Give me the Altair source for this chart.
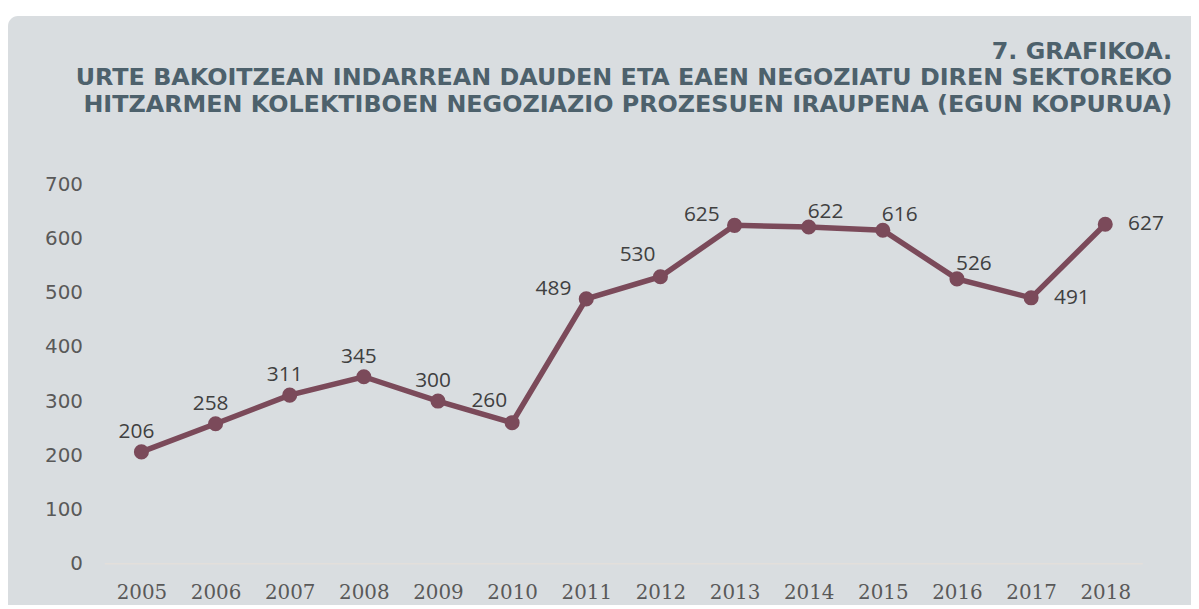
import altair as alt
import pandas as pd

years = ["2005", "2006", "2007", "2008", "2009", "2010", "2011",
         "2012", "2013", "2014", "2015", "2016", "2017", "2018"]
days = [206, 258, 311, 345, 300, 260, 489, 530, 625, 622, 616, 526, 491, 627]

title_lines = [
    "7. GRAFIKOA.",
    "URTE BAKOITZEAN INDARREAN DAUDEN ETA EAEN NEGOZIATU DIREN SEKTOREKO",
    "HITZARMEN KOLEKTIBOEN NEGOZIAZIO PROZESUEN IRAUPENA (EGUN KOPURUA)",
]
y_ticks = [0, 100, 200, 300, 400, 500, 600, 700]

# label placement groups (years)
above = ["2005", "2006", "2007", "2008", "2009"]
up_left = ["2010", "2012"]
left = ["2011", "2013"]
up_right = ["2014", "2015", "2016"]
right = ["2017", "2018"]

df = pd.DataFrame({"year": years, "days": days})

W, H = 1045, 381
LINE = "#7b4a5a"
BG = "#d9dde0"

x_enc = alt.X("year:N", sort=years,
              scale=alt.Scale(type="point", padding=0.5),
              axis=alt.Axis(title=None, labelAngle=0, labelFont="DejaVu Serif",
                            labelFontSize=20, labelColor="#595959", labelPadding=19,
                            ticks=False, domain=True, domainColor="#e3dfdb",
                            domainWidth=1.5, grid=False, zindex=1))
y_enc = alt.Y("days:Q", scale=alt.Scale(domain=[0, 700], nice=False),
              axis=alt.Axis(title=None, values=y_ticks, labelFont="DejaVu Sans",
                            labelFontSize=20, labelColor="#595959", labelPadding=22,
                            ticks=False, domain=False, grid=False, zindex=1))

bg = alt.Chart(alt.Data(values=[{}])).mark_rect(
    color=BG, cornerRadius=10
).encode(
    x=alt.value(-97), x2=alt.value(W + 120),
    y=alt.value(-170), y2=alt.value(H + 120),
)

base = alt.Chart(df)

line = base.mark_line(color=LINE, strokeWidth=5.5).encode(x=x_enc, y=y_enc)
pts = base.mark_point(filled=True, color=LINE, size=230, opacity=1).encode(x=x_enc, y=y_enc)


def labels(group, dx, dy):
    return base.transform_filter(
        alt.FieldOneOfPredicate(field="year", oneOf=group)
    ).mark_text(font="Open Sans", fontSize=21, color="#404040",
                dx=dx, dy=dy).encode(x=x_enc, y=y_enc, text="days:Q")


chart = alt.layer(
    bg, line, pts,
    labels(above, -5, -20),
    labels(up_left, -23, -22),
    labels(left, -33, -10),
    labels(up_right, 17, -15),
    labels(right, 41, 0),
).properties(
    width=W, height=H,
    autosize=alt.AutoSizeParams(type="none"),
    padding={"left": 97, "top": 176, "right": 49, "bottom": 40},
    background="white",
    title=alt.TitleParams(
        text=title_lines, anchor="end", align="right", frame="group",
        font="DejaVu Sans", fontSize=24, fontWeight="bold", color="#4d616c",
        lineHeight=27, offset=-102, dx=30,
    ),
).configure_view(stroke=None)

chart.save("out.html", embed_options={"renderer": "svg", "actions": False})
